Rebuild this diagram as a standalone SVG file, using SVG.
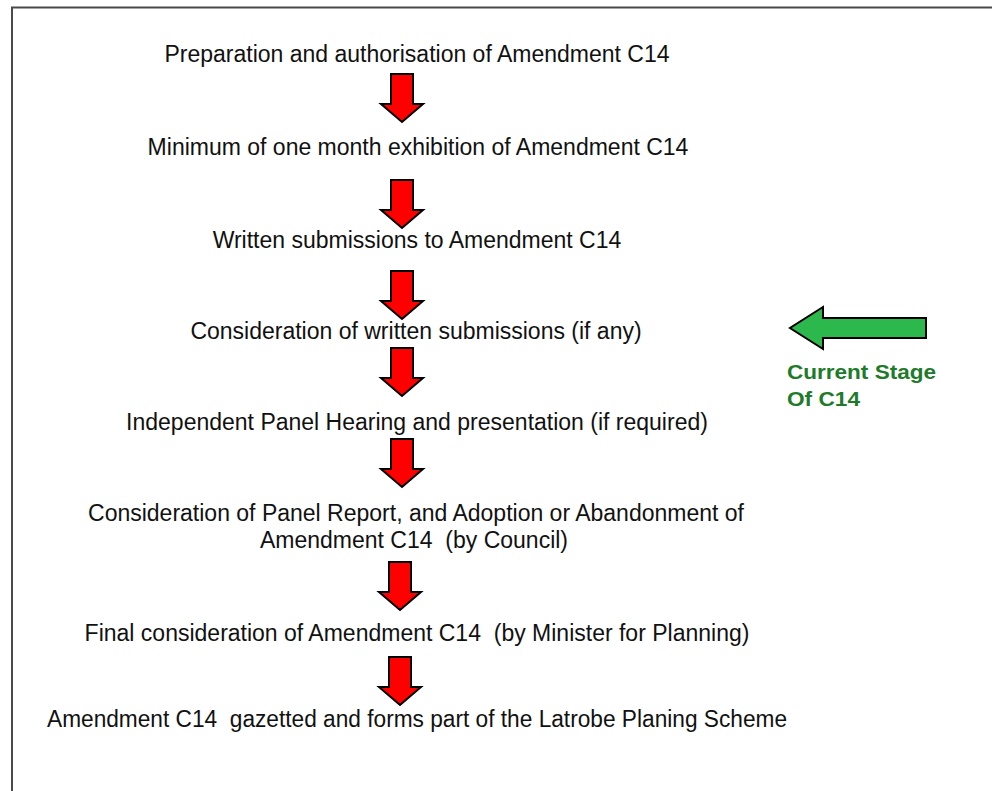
<svg xmlns="http://www.w3.org/2000/svg" width="992" height="791" viewBox="0 0 992 791">
<defs>
<style>
.t{font-family:"Liberation Sans",Arial,sans-serif;font-size:23px;fill:#111;text-anchor:middle}
.g{font-family:"Liberation Sans",Arial,sans-serif;font-size:21px;font-weight:bold;fill:#1e7b2a}
.ra{fill:#ff0000;stroke:#000;stroke-width:2;stroke-linejoin:miter}
.ga{fill:#2db84d;stroke:#000;stroke-width:2}
</style>
<path id="down" d="M-11,0 H11 V30 H21 L0,48 L-21,30 H-11 Z"/>
</defs>
<rect width="992" height="791" fill="#fff"/>
<rect x="12" y="7.5" width="1000" height="800" fill="none" stroke="#4a4a4a" stroke-width="2"/>

<g id="n1"><text class="t" x="417" y="62">Preparation and authorisation of Amendment C14</text></g>
<g id="n2"><text class="t" x="418" y="155">Minimum of one month exhibition of Amendment C14</text></g>
<g id="n3"><text class="t" x="417" y="248">Written submissions to Amendment C14</text></g>
<g id="n4"><text class="t" x="416" y="339">Consideration of written submissions (if any)</text></g>
<g id="n5"><text class="t" x="417" y="430">Independent Panel Hearing and presentation (if required)</text></g>
<g id="n6"><text class="t" x="416" y="521">Consideration of Panel Report, and Adoption or Abandonment of</text><text class="t" x="414" y="548" xml:space="preserve">Amendment C14  (by Council)</text></g>
<g id="n7"><text class="t" x="417" y="641" xml:space="preserve">Final consideration of Amendment C14  (by Minister for Planning)</text></g>
<g id="n8"><text class="t" x="417" y="727" xml:space="preserve" textLength="740" lengthAdjust="spacingAndGlyphs">Amendment C14  gazetted and forms part of the Latrobe Planing Scheme</text></g>

<g id="connectors">
<use href="#down" class="ra" transform="translate(402,74)"/>
<use href="#down" class="ra" transform="translate(402,180)"/>
<use href="#down" class="ra" transform="translate(402,271)"/>
<use href="#down" class="ra" transform="translate(402,348)"/>
<use href="#down" class="ra" transform="translate(402,439)"/>
<use href="#down" class="ra" transform="translate(400,562)"/>
<use href="#down" class="ra" transform="translate(400,657)"/>
</g>

<g id="current">
<path class="ga" d="M926,318 H823 V307 L790,328 L823,349 V338 H926 Z"/>
<text class="g" x="787" y="379" textLength="149" lengthAdjust="spacingAndGlyphs">Current Stage</text>
<text class="g" x="787" y="406" textLength="73" lengthAdjust="spacingAndGlyphs">Of C14</text>
</g>
</svg>
